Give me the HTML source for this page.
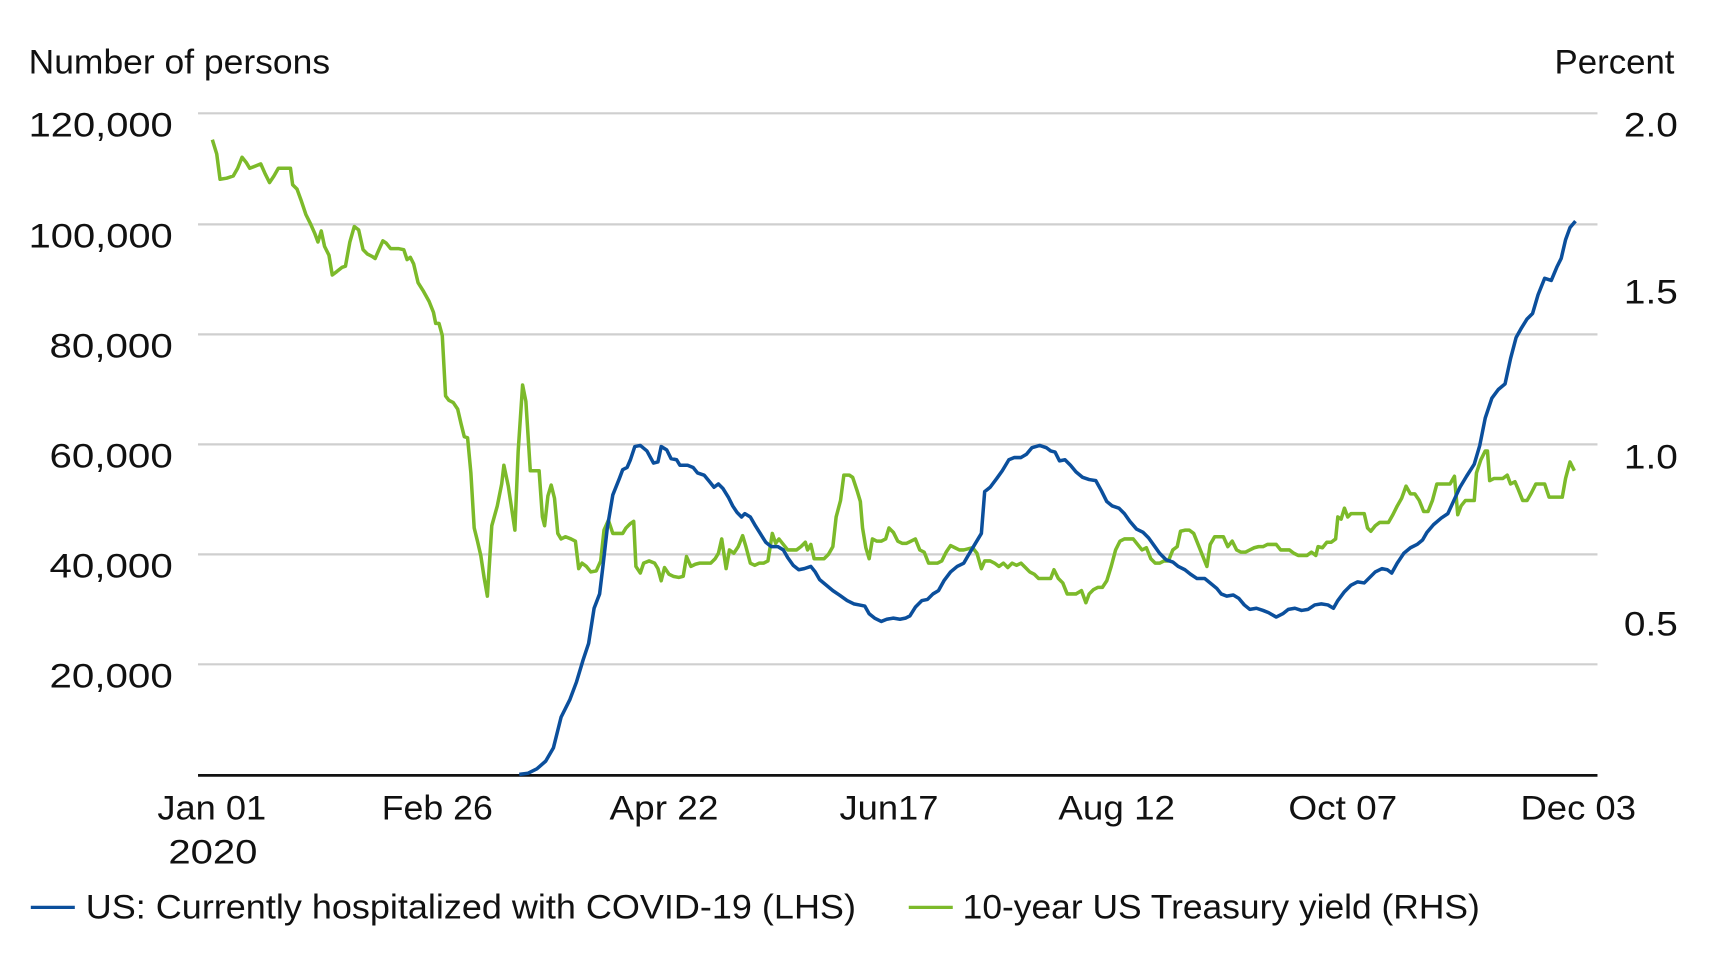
<!DOCTYPE html>
<html><head><meta charset="utf-8"><style>
html,body{margin:0;padding:0;background:#fff;}
svg{display:block;}
text{font-family:"Liberation Sans",sans-serif;fill:#111;}
</style></head><body>
<svg width="1724" height="980" viewBox="0 0 1567 891" preserveAspectRatio="none">
<g stroke="#cfcfcf" stroke-width="2">
<line x1="180" y1="103" x2="1452" y2="103"/>
<line x1="180" y1="204" x2="1452" y2="204"/>
<line x1="180" y1="304" x2="1452" y2="304"/>
<line x1="180" y1="404" x2="1452" y2="404"/>
<line x1="180" y1="504" x2="1452" y2="504"/>
<line x1="180" y1="604" x2="1452" y2="604"/>
</g>
<line x1="180" y1="705" x2="1452" y2="705" stroke="#111" stroke-width="2.5"/>
<g font-size="31" lengthAdjust="spacingAndGlyphs">
<text x="26" y="67" textLength="274" lengthAdjust="spacingAndGlyphs">Number of persons</text>
<text x="1413" y="67" textLength="109" lengthAdjust="spacingAndGlyphs">Percent</text>
<text x="26" y="124" textLength="131" lengthAdjust="spacingAndGlyphs">120,000</text>
<text x="26" y="225" textLength="131" lengthAdjust="spacingAndGlyphs">100,000</text>
<text x="45" y="325" textLength="112" lengthAdjust="spacingAndGlyphs">80,000</text>
<text x="45" y="425" textLength="112" lengthAdjust="spacingAndGlyphs">60,000</text>
<text x="45" y="525" textLength="112" lengthAdjust="spacingAndGlyphs">40,000</text>
<text x="45" y="625" textLength="112" lengthAdjust="spacingAndGlyphs">20,000</text>
<text x="1476" y="124" textLength="49" lengthAdjust="spacingAndGlyphs">2.0</text>
<text x="1476" y="276" textLength="49" lengthAdjust="spacingAndGlyphs">1.5</text>
<text x="1476" y="426" textLength="49" lengthAdjust="spacingAndGlyphs">1.0</text>
<text x="1476" y="578" textLength="49" lengthAdjust="spacingAndGlyphs">0.5</text>
<text x="143" y="745" textLength="99" lengthAdjust="spacingAndGlyphs">Jan 01</text>
<text x="153" y="785" textLength="81" lengthAdjust="spacingAndGlyphs">2020</text>
<text x="347" y="745" textLength="101" lengthAdjust="spacingAndGlyphs">Feb 26</text>
<text x="554" y="745" textLength="99" lengthAdjust="spacingAndGlyphs">Apr 22</text>
<text x="763" y="745" textLength="90" lengthAdjust="spacingAndGlyphs">Jun17</text>
<text x="962" y="745" textLength="106" lengthAdjust="spacingAndGlyphs">Aug 12</text>
<text x="1171" y="745" textLength="99" lengthAdjust="spacingAndGlyphs">Oct 07</text>
<text x="1382" y="745" textLength="105" lengthAdjust="spacingAndGlyphs">Dec 03</text>
<line x1="28" y1="825" x2="68" y2="825" stroke="#0b4f9c" stroke-width="3"/>
<text x="78" y="835" textLength="700" lengthAdjust="spacingAndGlyphs">US: Currently hospitalized with COVID-19 (LHS)</text>
<line x1="826" y1="825" x2="866" y2="825" stroke="#7cba2a" stroke-width="3"/>
<text x="875" y="835" textLength="470" lengthAdjust="spacingAndGlyphs">10-year US Treasury yield (RHS)</text>
</g>
<polyline fill="none" stroke="#7cba2a" stroke-width="3.2" stroke-linejoin="round" points="193,127 197,140 200,163 206,162 212,160 216,153 220,143 224,148 227,153 232,151 237,149 241,158 245,166 249,160 253,153 260,153 264,153 266,168 270,172 274,183 278,195 282,203 286,212 289,220 292,210 295,224 299,232 302,250 306,247 311,243 314,242 318,220 322,206 326,209 330,227 334,231 338,233 341,235 344,228 348,219 351,221 355,226 362,226 367,227 370,236 373,234 376,240 380,257 385,265 390,274 394,284 396,294 399,294 402,305 405,360 408,364 412,366 416,372 419,385 422,397 425,398 428,430 431,480 434,492 437,505 440,525 443,542 447,478 452,460 456,440 458,423 462,442 465,462 468,482 471,410 475,350 478,365 482,428 490,428 493,470 495,478 498,451 501,441 504,453 507,485 510,490 514,488 519,490 523,492 526,517 529,512 533,515 537,520 542,519 546,510 549,482 553,473 557,485 561,485 566,485 569,480 573,476 576,474 578,515 582,521 585,512 590,510 595,512 598,517 601,528 604,516 608,522 612,524 617,525 621,524 624,506 628,515 632,513 636,512 641,512 646,512 650,508 653,503 656,490 660,517 663,500 667,503 671,497 675,487 678,497 682,512 686,514 690,512 694,512 698,510 702,485 705,494 708,490 712,495 716,500 720,500 724,500 728,497 732,493 734,500 737,495 740,508 745,508 749,508 753,504 757,497 760,470 764,455 767,432 772,432 775,434 779,446 782,456 784,480 787,498 790,508 793,490 797,492 801,492 805,490 808,480 812,484 816,492 820,494 824,494 828,492 832,490 836,500 840,502 844,512 848,512 852,512 856,510 860,502 864,496 868,498 872,500 876,500 880,499 884,498 888,503 890,510 892,517 895,510 900,510 904,512 908,515 912,512 916,516 920,512 924,514 928,512 932,516 936,520 940,522 944,526 948,526 952,526 955,526 958,518 962,526 966,530 970,540 974,540 978,540 983,537 987,548 990,540 994,536 998,534 1002,534 1006,528 1010,515 1014,500 1018,492 1022,490 1026,490 1030,490 1034,495 1038,500 1042,498 1046,508 1050,512 1054,512 1058,510 1062,510 1066,500 1070,497 1073,483 1077,482 1081,482 1085,485 1089,495 1093,505 1097,515 1100,495 1104,488 1108,488 1112,488 1116,497 1120,492 1124,500 1128,502 1132,502 1136,500 1140,498 1144,497 1148,497 1152,495 1156,495 1160,495 1164,500 1168,500 1172,500 1176,503 1180,505 1184,505 1188,505 1192,502 1196,505 1198,497 1202,498 1206,493 1210,493 1214,490 1216,470 1219,472 1222,462 1225,470 1228,467 1232,467 1236,467 1240,467 1243,480 1246,483 1250,478 1254,475 1258,475 1262,475 1266,468 1270,460 1274,453 1278,442 1282,449 1286,449 1290,455 1294,465 1298,465 1302,455 1306,440 1310,440 1314,440 1318,440 1322,433 1325,468 1328,460 1332,455 1336,455 1340,455 1342,430 1346,418 1350,410 1352,410 1354,437 1358,435 1362,435 1366,435 1370,432 1373,440 1377,438 1380,445 1384,455 1388,455 1392,448 1396,440 1400,440 1404,440 1408,452 1412,452 1416,452 1420,452 1423,435 1427,420 1431,428"/>
<polyline fill="none" stroke="#0b4f9c" stroke-width="3.2" stroke-linejoin="round" points="472,704 480,703 488,699 496,692 503,680 510,652 518,636 524,620 530,600 535,585 540,553 545,540 548,515 552,480 557,450 563,435 566,427 570,425 573,418 577,406 582,405 588,410 594,421 598,420 601,406 606,409 610,417 615,418 618,423 625,423 630,425 634,430 640,432 645,438 649,443 653,440 657,444 662,452 666,460 670,466 674,470 677,467 682,470 686,477 691,485 696,493 701,497 707,497 712,500 716,507 721,514 726,518 731,517 737,515 741,520 745,527 751,532 757,537 763,541 770,546 776,549 781,550 786,551 790,558 795,562 801,565 806,563 812,562 818,563 823,562 827,560 832,552 838,546 843,545 848,540 853,537 858,528 864,520 870,515 876,512 880,505 886,495 892,485 895,447 900,443 906,435 911,428 917,418 922,416 928,416 933,413 938,407 945,405 951,407 955,410 959,411 963,419 968,418 973,423 978,429 984,434 990,436 996,437 1001,446 1006,456 1011,460 1017,462 1022,467 1027,474 1033,481 1039,484 1044,489 1049,496 1054,503 1060,509 1066,511 1071,515 1077,518 1082,522 1088,526 1095,526 1100,530 1106,535 1110,540 1115,542 1121,541 1126,544 1131,550 1136,554 1142,553 1148,555 1153,557 1160,561 1166,558 1171,554 1177,553 1183,555 1189,554 1195,550 1201,549 1207,550 1212,553 1216,546 1222,538 1228,532 1234,529 1240,530 1245,525 1250,520 1256,517 1261,518 1265,521 1270,512 1276,503 1282,498 1288,495 1293,491 1297,484 1303,477 1310,471 1316,467 1321,456 1327,443 1333,433 1340,422 1345,405 1350,380 1356,362 1362,354 1368,349 1373,326 1378,307 1383,298 1388,290 1393,285 1398,268 1404,253 1410,255 1415,243 1419,235 1423,218 1427,207 1432,201"/>
</svg>
</body></html>
